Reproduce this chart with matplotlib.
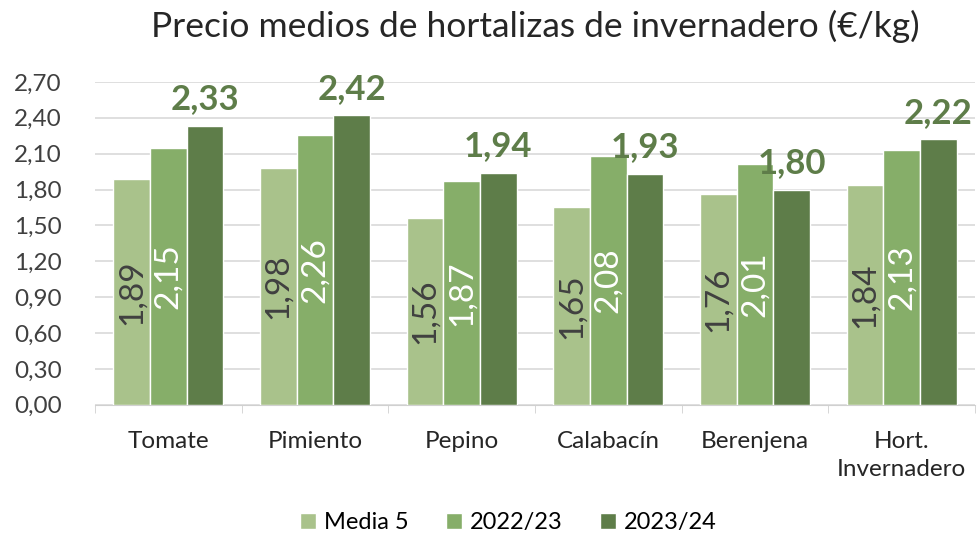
import matplotlib.pyplot as plt
import numpy as np

plt.rcParams['font.family'] = ['Lato', 'DejaVu Sans']

categories = ["Tomate", "Pimiento", "Pepino", "Calabacín", "Berenjena", "Hort.\nInvernadero"]
media5 = [1.89, 1.98, 1.56, 1.65, 1.76, 1.84]
y2223 = [2.15, 2.26, 1.87, 2.08, 2.01, 2.13]
y2324 = [2.33, 2.42, 1.94, 1.93, 1.80, 2.22]
series = ["Media 5", "2022/23", "2023/24"]
colors = ["#A9C28B", "#86AE69", "#5E7D49"]

def fmt(v):
    return ("%.2f" % v).replace(".", ",")

fig = plt.figure(figsize=(9.78, 5.39), dpi=100)
ax = fig.add_axes([0.097, 0.249, 0.9, 0.599])

x = np.arange(len(categories))
w = 0.25
ax.bar(x - w, media5, w, color=colors[0], edgecolor="white", linewidth=1, label=series[0], zorder=3)
ax.bar(x, y2223, w, color=colors[1], edgecolor="white", linewidth=1, label=series[1], zorder=3)
ax.bar(x + w, y2324, w, color=colors[2], edgecolor="white", linewidth=1, label=series[2], zorder=3)

for xi, v in zip(x, media5):
    ax.text(xi - w, v / 2, fmt(v), rotation=90, ha="center", va="center",
            fontsize=24, color="#404040", zorder=4)
for xi, v in zip(x, y2223):
    ax.text(xi, v / 2, fmt(v), rotation=90, ha="center", va="center",
            fontsize=24, color="white", zorder=4)
for xi, v in zip(x, y2324):
    ax.text(xi + w, v + 0.09, fmt(v), ha="center", va="bottom",
            fontsize=25, fontweight="bold", color="#5E7D49", zorder=4)

ax.set_ylim(0, 2.70)
ax.set_xlim(-0.5, len(categories) - 0.5)
yt = np.arange(0, 2.71, 0.30)
ax.set_yticks(yt)
ax.set_yticklabels([fmt(t) for t in yt])
ax.set_xticks(x)
ax.set_xticklabels(categories, linespacing=1.4)
ax.tick_params(axis="x", length=0, pad=19, labelsize=17.5, colors="#262626")
ax.tick_params(axis="y", length=0, pad=24, labelsize=17.5, colors="#404040")
ax.set_xticks(np.arange(-0.5, len(categories), 1), minor=True)
ax.tick_params(axis="x", which="minor", length=6, color="#D0D0D0")
ax.grid(axis="y", color="#D9D9D9", linewidth=1.2, zorder=0)
for s in ["top", "right", "left"]:
    ax.spines[s].set_visible(False)
ax.spines["bottom"].set_color("#D0D0D0")

ax.set_title("Precio medios de hortalizas de invernadero (€/kg)", fontsize=25.5, color="#262626", pad=32)

ax.legend(loc="center", bbox_to_anchor=(0.52, 0.03), bbox_transform=fig.transFigure, ncol=3, frameon=False,
          fontsize=17, handlelength=0.65, handleheight=0.65, columnspacing=1.6, handletextpad=0.35,
          borderpad=0)

fig.savefig("out.png", dpi=100)
